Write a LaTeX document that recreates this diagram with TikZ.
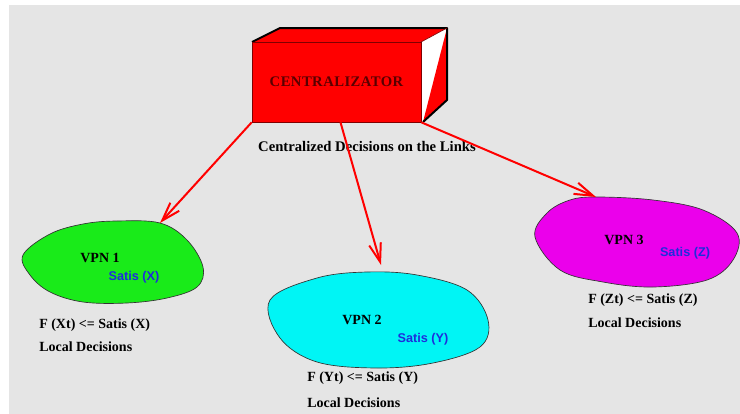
\documentclass[tikz,border=0pt]{standalone}
\usepackage{fontspec}
\setmainfont{Liberation Serif}
\setsansfont{Liberation Sans}
\usetikzlibrary{arrows.meta}
\definecolor{bggray}{RGB}{229,229,229}
\definecolor{vpngreen}{RGB}{25,235,25}
\definecolor{vpncyan}{RGB}{0,245,245}
\definecolor{vpnmagenta}{RGB}{235,0,235}
\definecolor{satisblue}{RGB}{30,45,220}
\begin{document}
\begin{tikzpicture}[x=0.75pt, y=-0.75pt,
  link/.style={red, line width=1.5pt, -{Straight Barb[length=14pt,width=9pt]}},
  lbl/.style={font=\bfseries\fontsize{10.5}{12}\selectfont, inner sep=0pt},
  satis/.style={inner sep=0pt, text=satisblue, font=\sffamily\bfseries\fontsize{9.5}{11}\selectfont},
  blob/.style={draw=black!80, line width=0.5pt}]
\useasboundingbox (0,0) rectangle (740,414);
\fill[bggray] (9,5) rectangle (740,414);
\fill[red] (252,42) -- (280,28) -- (447,28) -- (421,42) -- cycle;
\fill[white] (421,42) -- (447,28) -- (447,100) -- (423,122) -- (421,122) -- cycle;
\fill[red] (447,28) -- (447,100) -- (423,122) -- cycle;
\draw[line width=1.5pt, line join=round] (252,42) -- (280,28) -- (447,28) -- (447,100) -- (423,122);
\draw[red!50!black, line width=0.5pt] (421,42) -- (447,28);
\node[fill=red, draw=red!50!black, line width=0.5pt, minimum width=126.75pt, minimum height=60pt,
  text=red!35!black, font=\bfseries\fontsize{11}{12}\selectfont\addfontfeature{LetterSpace=3}]
  (central) at (336.5,82) {CENTRALIZATOR};
\node[lbl, font=\bfseries\fontsize{11}{12}\selectfont] (links) at (367,146) {Centralized Decisions on the Links};
\draw[blob, fill=vpngreen] plot[smooth cycle, tension=0.6] coordinates {(23,255) (50,234) (83,224) (117,221) (160,223) (187,240) (203,267) (197,287) (167,298) (127,303) (83,302) (50,292) (30,275)};
\draw[blob, fill=vpncyan] plot[smooth cycle, tension=0.6] coordinates {(270,300) (317,278) (367,272) (417,275) (467,290) (488,320) (480,347) (433,363) (377,368) (317,362) (280,338)};
\draw[blob, fill=vpnmagenta] plot[smooth cycle, tension=0.6] coordinates {(597,197) (653,200) (703,210) (737,233) (733,260) (707,280) (653,287) (603,282) (560,270) (535,237) (547,213) (570,200)};
\node[lbl] (vpn1) at (100,258) {VPN 1};
\node[satis] (satx) at (134,277) {Satis (X)};
\node[lbl, anchor=west] (fx) at (39,325) {F (Xt) <= Satis (X)};
\node[lbl, anchor=west] (loc1) at (39,347) {Local Decisions};
\node[lbl] (vpn2) at (362,320) {VPN 2};
\node[satis] (saty) at (423,339) {Satis (Y)};
\node[lbl, anchor=west] (fy) at (307,378) {F (Yt) <= Satis (Y)};
\node[lbl, anchor=west] (loc2) at (307,403) {Local Decisions};
\node[lbl] (vpn3) at (624,240) {VPN 3};
\node[satis] (satz) at (685,253) {Satis (Z)};
\node[lbl, anchor=west] (fz) at (588,300) {F (Zt) <= Satis (Z)};
\node[lbl, anchor=west] (loc3) at (588,323) {Local Decisions};
\coordinate (in1) at (160,223);
\coordinate (in2) at (381,265);
\coordinate (in3) at (596,197);
\draw[link] (central.south west) -- (in1);
\draw[link] ([xshift=3pt]central.south) -- (in2);
\draw[link] (central.south east) -- (in3);
\end{tikzpicture}
\end{document}
